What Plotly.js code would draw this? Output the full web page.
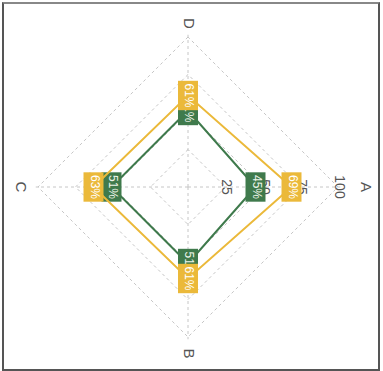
<!DOCTYPE html>
<html>
<head>
<meta charset="utf-8">
<script src="https://cdn.plot.ly/plotly-3.0.1.min.js"></script>
<style>
  html, body { margin: 0; padding: 0; width: 383px; height: 371px; overflow: hidden; background: #fff; }
  #chart { position: absolute; left: -2px; top: -3px; width: 380px; height: 380px; transform: rotate(90deg); transform-origin: 50% 50%; }
  #frame { position: absolute; left: 2px; top: 2px; width: 374px; height: 365px; border: 2px solid #555; border-top-color: #888; pointer-events: none; }
</style>
</head>
<body>
<div id="chart"></div>
<div id="frame"></div>
<script>
// Radar axes and the two series
const categories = ['A', 'B', 'C', 'D'];
const greenValues = [45, 51, 51, 51];
const yellowValues = [69, 61, 63, 61];
const radialTicks = [25, 50, 75, 100];
const radialTickLabels = ['25', '50', '75', '100'];

// how far out each axis name sits (A clears the "100" tick)
const AXIS_LABEL_RADIUS = [118, 111, 112, 109];

const GREEN = '#3f7a4c';
const YELLOW = '#ebb93a';
const GRID = '#c6c6c6';
const FONT = 'Liberation Sans, Arial, sans-serif';

// closed polygon with a boxed percentage label at each corner
function seriesTrace(values, color, textColor) {
  const r = values.concat(values[0]);
  const theta = categories.concat(categories[0]);
  const text = values.map(v => v + '%').concat('');
  const sizes = values.map(() => 21).concat(0);
  return {
    type: 'scatterpolar',
    r: r,
    theta: theta,
    mode: 'lines+markers+text',
    text: text,
    textposition: 'middle center',
    textfont: { family: FONT, size: 12, color: textColor },
    line: { color: color, width: 2 },
    marker: {
      symbol: 'line-ew-open',
      size: sizes,
      opacity: 1,
      color: color,
      line: { color: color, width: 20 }
    },
    cliponaxis: false,
    hoverinfo: 'skip',
    showlegend: false
  };
}

const tickTrace = {
  type: 'scatterpolar',
  r: radialTicks,
  theta: radialTicks.map(() => categories[0]),
  mode: 'text',
  text: radialTickLabels,
  textposition: 'middle center',
  textfont: { family: FONT, size: 14, color: '#555' },
  cliponaxis: false,
  hoverinfo: 'skip',
  showlegend: false
};

// axis names live on a wider, invisible polar so they can sit past the 100 ring
const axisNameTrace = {
  type: 'scatterpolar',
  subplot: 'polar2',
  r: AXIS_LABEL_RADIUS,
  theta: categories,
  mode: 'text',
  text: categories,
  textposition: 'middle center',
  textfont: { family: FONT, size: 15, color: '#555' },
  cliponaxis: false,
  hoverinfo: 'skip',
  showlegend: false
};

const data = [
  tickTrace,
  seriesTrace(greenValues, GREEN, '#eef5ea'),
  seriesTrace(yellowValues, YELLOW, '#ffffff'),
  axisNameTrace
];

// radial range runs a little past 100 so the 100 ring is drawn as a grid line;
// the domain is widened to keep 100 at the same 150px radius
const RADIAL_MAX = 101.5;
const half = 150 * RADIAL_MAX / 100;
const inner = [(180 - half) / 360, (180 + half) / 360];

const layout = {
  width: 380,
  height: 380,
  margin: { l: 10, r: 10, t: 10, b: 10 },
  paper_bgcolor: 'rgba(0,0,0,0)',
  plot_bgcolor: 'rgba(0,0,0,0)',
  showlegend: false,
  polar: {
    domain: { x: inner, y: inner },
    bgcolor: 'rgba(0,0,0,0)',
    gridshape: 'linear',
    radialaxis: {
      range: [0, RADIAL_MAX],
      tickvals: radialTicks,
      showticklabels: false,
      ticks: '',
      showline: false,
      gridcolor: GRID,
      griddash: 'dot',
      gridwidth: 1
    },
    angularaxis: {
      type: 'category',
      categoryarray: categories,
      direction: 'clockwise',
      rotation: 90,
      showline: false,
      showticklabels: false,
      ticks: '',
      gridcolor: GRID,
      griddash: 'dot',
      gridwidth: 1
    }
  },
  polar2: {
    domain: { x: [0, 1], y: [0, 1] },
    bgcolor: 'rgba(0,0,0,0)',
    radialaxis: {
      range: [0, 120],
      showgrid: false,
      showline: false,
      showticklabels: false,
      ticks: ''
    },
    angularaxis: {
      type: 'category',
      categoryarray: categories,
      direction: 'clockwise',
      rotation: 90,
      showline: false,
      showgrid: false,
      showticklabels: false,
      ticks: ''
    }
  }
};

Plotly.newPlot('chart', data, layout, { staticPlot: true, displayModeBar: false });
</script>
</body>
</html>
